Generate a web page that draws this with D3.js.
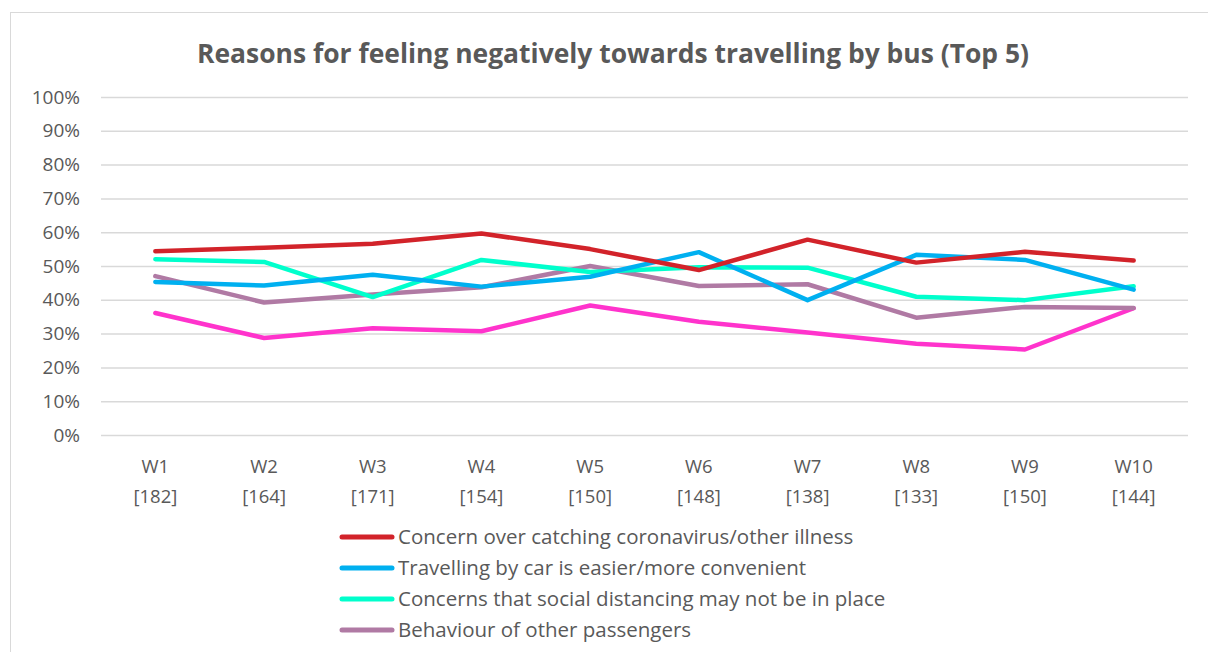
<!DOCTYPE html>
<html>
<head>
<meta charset="utf-8">
<script src="https://cdn.jsdelivr.net/npm/d3@7"></script>
<style>
  body { margin: 0; background: #fff; }
  text { font-family: "Open Sans", "Noto Sans", sans-serif; fill: #595959; }
</style>
</head>
<body>
<div id="chart"></div>
<script>
// waves and sample sizes
var waves = ["W1","W2","W3","W4","W5","W6","W7","W8","W9","W10"];
var bases = ["[182]","[164]","[171]","[154]","[150]","[148]","[138]","[133]","[150]","[144]"];
var yTicks = [0,10,20,30,40,50,60,70,80,90,100];

// series values (%)
var concernIllness   = [54.4,55.4,56.6,59.6,55.0,48.8,57.8,51.0,54.2,51.6];
var carEasier        = [45.3,44.2,47.4,43.9,46.8,54.1,39.9,53.3,51.8,43.0];
var socialDistancing = [52.0,51.2,40.8,51.8,48.2,49.6,49.5,40.9,39.9,44.0];
var otherPassengers  = [47.0,39.2,41.6,43.7,50.0,44.1,44.6,34.7,37.9,37.6];
var fifthReason      = [36.1,28.7,31.6,30.7,38.3,33.5,30.3,27.0,25.3,37.5];

var seriesNames = [
  "Concern over catching coronavirus/other illness",
  "Travelling by car is easier/more convenient",
  "Concerns that social distancing may not be in place",
  "Behaviour of other passengers"
];
var seriesValues = [concernIllness, carEasier, socialDistancing, otherPassengers, fifthReason];
var seriesColors = ["#D2232A", "#00B0F0", "#00FFCC", "#B07AA4", "#FF33CC"];

var W = 1208, H = 652;
var margin = {top: 97, left: 101, right: 20, bottom: 217};
var plotW = 1188 - margin.left, plotH = 435 - margin.top;

var svg = d3.select("#chart").append("svg")
    .attr("width", W).attr("height", H);

// chart frame
svg.append("rect")
    .attr("x", 10.5).attr("y", 12.5)
    .attr("width", W + 20).attr("height", H + 20)
    .attr("fill", "none").attr("stroke", "#d9d9d9");

// title
svg.append("text")
    .attr("x", 613).attr("y", 63)
    .attr("text-anchor", "middle")
    .attr("textLength", 832).attr("lengthAdjust", "spacingAndGlyphs")
    .style("font-size", "26px").style("font-weight", "bold")
    .text("Reasons for feeling negatively towards travelling by bus (Top 5)");

var g = svg.append("g")
    .attr("transform", "translate(" + margin.left + "," + margin.top + ")");

var x = d3.scaleBand().domain(waves).range([0, plotW]);
var y = d3.scaleLinear().domain([0, 100]).range([plotH, 0]);

// gridlines
g.append("g")
    .call(d3.axisLeft(y).tickValues(yTicks).tickSize(-plotW).tickFormat(""))
    .call(function(a) { a.select(".domain").remove(); })
    .selectAll("line").attr("stroke", "#d9d9d9").attr("stroke-width", 1.5);

// y labels
g.append("g")
    .call(d3.axisLeft(y).tickValues(yTicks).tickSize(0).tickPadding(21)
      .tickFormat(function(d) { return d + "%"; }))
    .call(function(a) { a.select(".domain").remove(); })
    .selectAll("text")
      .style("font-size", "19px").style("fill", "#595959")
      .style("font-family", "'Open Sans', sans-serif");

// x labels (two lines)
var xl = g.append("g").attr("transform", "translate(0," + plotH + ")");
xl.selectAll("text.wave").data(waves).enter().append("text")
    .attr("class", "wave")
    .attr("x", function(d) { return x(d) + x.bandwidth() / 2; })
    .attr("y", 38)
    .attr("text-anchor", "middle")
    .style("font-size", "18.5px")
    .text(function(d) { return d; });
xl.selectAll("text.base").data(bases).enter().append("text")
    .attr("class", "base")
    .attr("x", function(d, i) { return x(waves[i]) + x.bandwidth() / 2; })
    .attr("y", 68)
    .attr("text-anchor", "middle")
    .style("font-size", "18.5px")
    .text(function(d) { return d; });

// lines (drawn bottom series first)
var line = d3.line()
    .x(function(d, i) { return x(waves[i]) + x.bandwidth() / 2; })
    .y(function(d) { return y(d); });

var order = [4, 3, 2, 1, 0];
order.forEach(function(k) {
  g.append("path")
      .datum(seriesValues[k])
      .attr("fill", "none")
      .attr("stroke", seriesColors[k])
      .attr("stroke-width", 4.5)
      .attr("stroke-linejoin", "round")
      .attr("stroke-linecap", "round")
      .attr("d", line);
});

// legend
var legend = svg.append("g").attr("transform", "translate(340,537)");
var rows = legend.selectAll("g").data(seriesNames).enter().append("g")
    .attr("transform", function(d, i) { return "translate(0," + (i * 31) + ")"; });
rows.append("line")
    .attr("x1", 2).attr("x2", 52).attr("y1", 0).attr("y2", 0)
    .attr("stroke", function(d, i) { return seriesColors[i]; })
    .attr("stroke-width", 5).attr("stroke-linecap", "round");
rows.append("text")
    .attr("x", 58).attr("y", 7)
    .style("font-size", "20.5px")
    .text(function(d) { return d; });
</script>
</body>
</html>
